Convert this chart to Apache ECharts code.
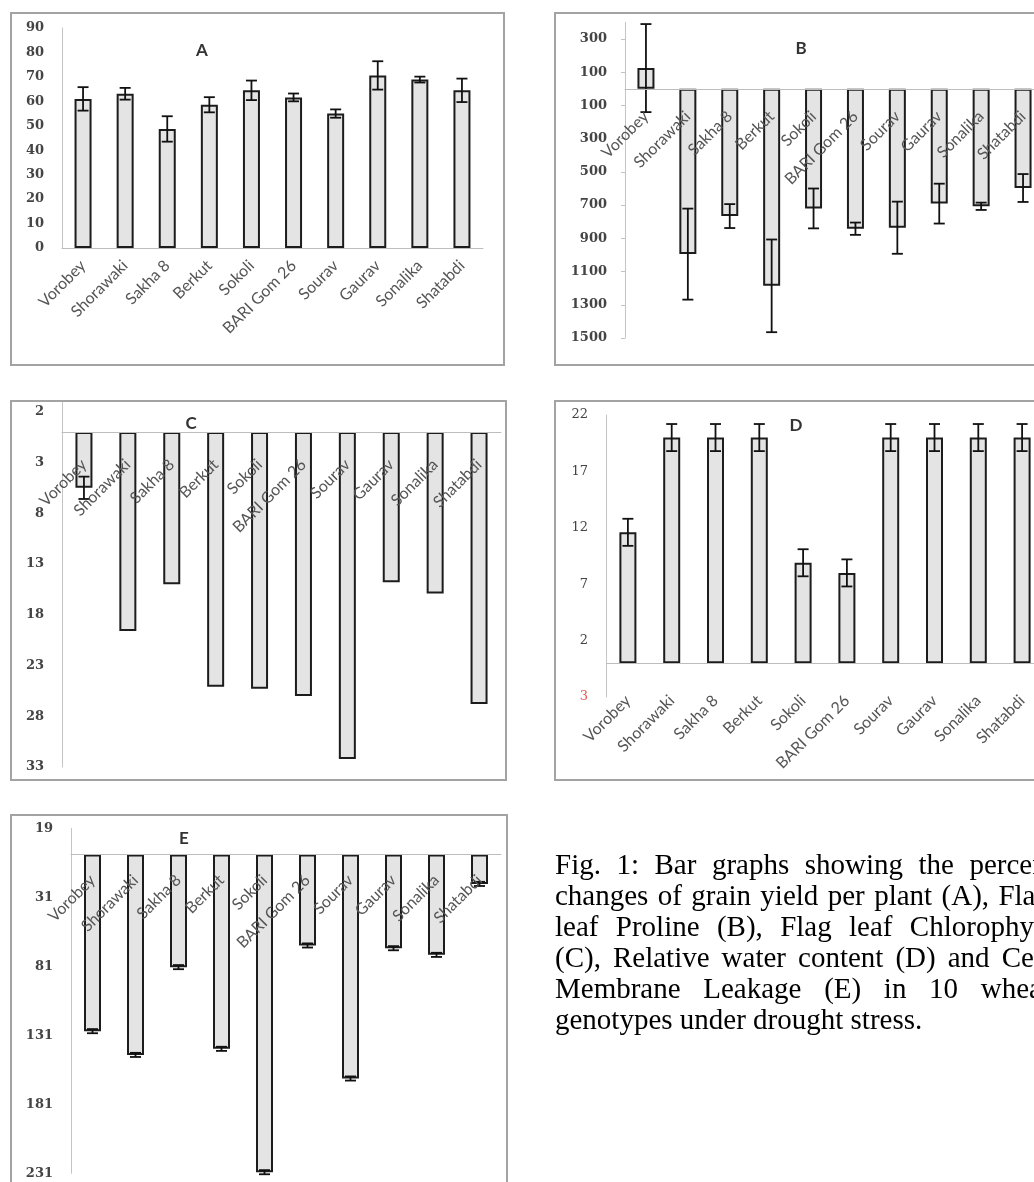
<!DOCTYPE html>
<html>
<head>
<meta charset="utf-8">
<script src="https://cdn.jsdelivr.net/npm/echarts@6/dist/echarts.min.js"></script>
<style>
html,body{margin:0;padding:0;width:1034px;height:1182px;overflow:hidden;background:#fff;}
#chart{position:absolute;left:0;top:0;width:1100px;height:1230px;}
#caption{position:absolute;left:555px;top:849px;font-family:"Liberation Serif","Times New Roman",serif;font-size:29px;line-height:31px;color:#000;}
#caption div{width:495px;text-align:justify;text-align-last:justify;}
#caption div.first{width:540px;}
#caption div.last{text-align:left;text-align-last:left;}
</style>
</head>
<body>
<div id="chart"></div>
<div id="caption">
<div class="first">Fig. 1: Bar graphs showing the percentage</div>
<div>changes of grain yield per plant (A), Flag</div>
<div>leaf Proline (B), Flag leaf Chlorophyll</div>
<div>(C), Relative water content (D) and Cell</div>
<div>Membrane Leakage (E) in 10 wheat</div>
<div class="last">genotypes under drought stress.</div>
</div>
<script>
// ---- data ----
const categories = ['Vorobey','Shorawaki','Sakha 8','Berkut','Sokoli','BARI Gom 26','Sourav','Gaurav','Sonalika','Shatabdi'];

const yieldA     = [61.0, 63.1, 48.7, 58.6, 64.5, 61.6, 55.0, 70.6, 68.9, 64.5];
const yieldAErr  = [4.8, 2.4, 5.2, 3.1, 4.0, 1.6, 1.7, 5.8, 1.2, 4.8];

const prolineB    = [125, -995, -766, -1186, -720, -842, -836, -691, -707, -597];
const prolineBErr = [265, 274, 72, 279, 120, 37, 157, 120, 22, 84];

const chlC    = [-5.5, -19.6, -15.0, -25.1, -25.3, -26.0, -32.2, -14.8, -15.9, -26.8];
const chlCErr = [1.1, 0, 0, 0, 0, 0, 0, 0, 0, 0];

const rwcD    = [11.6, 20.0, 20.0, 20.0, 8.9, 8.0, 20.0, 20.0, 20.0, 20.0];
const rwcDErr = [1.2, 1.2, 1.2, 1.2, 1.2, 1.2, 1.2, 1.2, 1.2, 1.2];

const leakE    = [-128.0, -145.2, -81.6, -140.8, -230.2, -65.9, -162.3, -67.9, -72.7, -21.3];
const leakEErr = [1.5, 1.5, 1.5, 1.5, 1.5, 1.5, 1.5, 1.5, 1.5, 1.5];

const ticksA = [0, 10, 20, 30, 40, 50, 60, 70, 80, 90];
const ticksB = [300, 100, -100, -300, -500, -700, -900, -1100, -1300, -1500];
const ticksC = [2, -3, -8, -13, -18, -23, -28, -33];
const ticksD = [22, 17, 12, 7, 2, -3];
const ticksE = [19, -31, -81, -131, -181, -231];

const titles = ['A', 'B', 'C', 'D', 'E'];

// ---- chart ----
const chart = echarts.init(document.getElementById('chart'), null, {renderer: 'canvas'});

const gridDefs = [
  {left: 62,  top: 28,    width: 421, height: 220},
  {left: 625, top: 22.4,  width: 419, height: 315.6},
  {left: 62,  top: 401.5, width: 439, height: 365.5},
  {left: 606, top: 415,   width: 438, height: 282},
  {left: 71,  top: 828.3, width: 430, height: 345}
];
const yRanges = [[0, 90], [-1500, 400], [-33, 3], [-3, 22], [-231, 19]];
const yTicks = [ticksA, ticksB, ticksC, ticksD, ticksE];
const labelMargins = [15, 25, 30, 1, 23];
const yLabelBold = ['bold', 'bold', 'bold', 'normal', 'bold'];
const axisAtZero = [false, true, true, false, true];

const yFont = '"DejaVu Serif", serif';
const xFont = 'Lato, "Open Sans", sans-serif';

const xAxes = gridDefs.map((g, i) => {
  let off = 0;
  if (axisAtZero[i]) {
    const r = yRanges[i];
    const zeroY = g.top + g.height * r[1] / (r[1] - r[0]);
    off = -((g.top + g.height) - zeroY);
  }
  return {
    type: 'category',
    gridIndex: i,
    data: categories,
    position: 'bottom',
    offset: off,
    z: 10,
    axisLine: {show: i !== 3, onZero: false, lineStyle: {color: '#bdbdbd', width: 1}},
    axisTick: {show: false},
    axisLabel: {
      interval: 0, rotate: 45, margin: labelMargins[i],
      fontFamily: xFont, fontSize: 16, color: '#555'
    },
    splitLine: {show: false}
  };
});

const yAxes = gridDefs.map((g, i) => ({
  type: 'value',
  gridIndex: i,
  min: yRanges[i][0],
  max: yRanges[i][1],
  axisLine: {show: true, lineStyle: {color: '#c4c4c4', width: 1}},
  axisTick: {show: i === 1, length: 4, customValues: yTicks[i], lineStyle: {color: '#c4c4c4'}},
  splitLine: {show: false},
  axisLabel: {
    customValues: yTicks[i],
    margin: 18,
    fontFamily: yFont, fontSize: 13, fontWeight: yLabelBold[i], color: '#444',
    formatter: function (v) {
      if (i === 3 && v < 0) return '{r|' + Math.abs(v) + '}';
      return String(Math.abs(v));
    },
    rich: {r: {color: '#e35a5a', fontFamily: yFont, fontSize: 13}}
  }
}));

const barStyle = {color: '#e4e4e4', borderColor: '#1c1c1c', borderWidth: 2};

function barSeries(idx, values) {
  return {
    type: 'bar', xAxisIndex: idx, yAxisIndex: idx,
    data: values, barWidth: 17, itemStyle: barStyle, z: 2,
    silent: true, animation: false,
    markLine: idx === 3 ? {
      silent: true, symbol: ['none', 'none'], label: {show: false},
      lineStyle: {color: '#bdbdbd', width: 1, type: 'solid'},
      data: [{yAxis: 0}]
    } : undefined
  };
}

function errSeries(idx, values, errs) {
  const data = [];
  values.forEach((v, k) => { if (errs[k] > 0) data.push([k, v - errs[k], v + errs[k]]); });
  return {
    type: 'custom', xAxisIndex: idx, yAxisIndex: idx, z: 5, silent: true, animation: false,
    encode: {x: 0, y: [1, 2]},
    data: data,
    renderItem: function (params, api) {
      const x = api.value(0);
      const lo = api.coord([x, api.value(1)]);
      const hi = api.coord([x, api.value(2)]);
      const w = 5.5;
      const st = {stroke: '#111', lineWidth: 1.8};
      return {type: 'group', children: [
        {type: 'line', shape: {x1: lo[0], y1: lo[1], x2: hi[0], y2: hi[1]}, style: st},
        {type: 'line', shape: {x1: lo[0] - w, y1: lo[1], x2: lo[0] + w, y2: lo[1]}, style: st},
        {type: 'line', shape: {x1: hi[0] - w, y1: hi[1], x2: hi[0] + w, y2: hi[1]}, style: st}
      ]};
    }
  };
}

const frames = [
  {x: 11, y: 13, w: 493, h: 352},
  {x: 555, y: 13, w: 540, h: 352},
  {x: 11, y: 401, w: 495, h: 379},
  {x: 555, y: 401, w: 540, h: 379},
  {x: 11, y: 815, w: 496, h: 420}
];
const titlePos = [[197, 47], [796, 45], [186, 420], [791, 422], [179, 835]];

const option = {
  animation: false,
  backgroundColor: '#fff',
  grid: gridDefs.map(g => Object.assign({containLabel: false}, g)),
  xAxis: xAxes,
  yAxis: yAxes,
  title: titles.map((t, i) => ({
    text: t, left: titlePos[i][0], top: titlePos[i][1] - 10, textAlign: 'center',
    textStyle: {fontFamily: xFont, fontSize: 17, fontWeight: 'bold', color: '#333'}
  })),
  graphic: frames.map(f => ({
    type: 'rect', shape: {x: f.x, y: f.y, width: f.w, height: f.h},
    style: {fill: 'none', stroke: '#a3a3a3', lineWidth: 2}, silent: true, z: 100
  })),
  series: [
    barSeries(0, yieldA), errSeries(0, yieldA, yieldAErr),
    barSeries(1, prolineB), errSeries(1, prolineB, prolineBErr),
    barSeries(2, chlC), errSeries(2, chlC, chlCErr),
    barSeries(3, rwcD), errSeries(3, rwcD, rwcDErr),
    barSeries(4, leakE), errSeries(4, leakE, leakEErr)
  ]
};
chart.setOption(option);
</script>
</body>
</html>
